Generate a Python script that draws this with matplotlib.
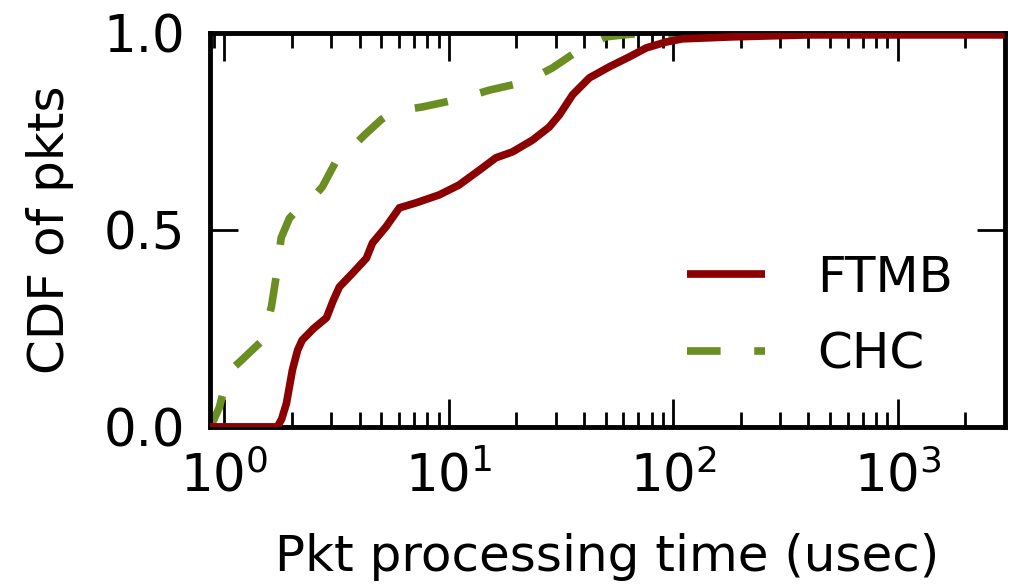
import matplotlib
matplotlib.use("Agg")
import matplotlib.pyplot as plt
from matplotlib.ticker import LogLocator, NullFormatter, FixedLocator

# Packet processing time (usec) vs. cumulative fraction of packets
ftmb_time = [0.86, 1.72, 1.80, 1.89, 2.01, 2.12, 2.22, 2.50, 2.85, 3.05, 3.25,
             3.72, 4.29, 4.57, 5.25, 6.02, 7.17, 9.07, 11.1, 13.7, 16.2, 19.2,
             23.6, 28.0, 31.1, 35.6, 42.3, 51.9, 63.6, 75.8, 93.0, 110, 183,
             400, 3000]
ftmb_cdf = [0.0, 0.0, 0.02, 0.06, 0.145, 0.195, 0.22, 0.25, 0.277, 0.32, 0.355,
            0.39, 0.428, 0.467, 0.508, 0.556, 0.569, 0.589, 0.614, 0.652, 0.683,
            0.698, 0.728, 0.761, 0.792, 0.843, 0.886, 0.914, 0.939, 0.962, 0.977,
            0.985, 0.99, 0.995, 0.995]

chc_time = [0.86, 0.884, 0.95, 1.0, 1.07, 1.17, 1.48, 1.62, 1.71, 1.79, 1.95,
            2.16, 2.47, 2.73, 3.25, 3.72, 4.21, 5.0, 5.6, 7.6, 11.1, 15.2, 22.1,
            28.9, 39.3, 50.0, 65.0, 3000]
chc_cdf = [0.0, 0.01, 0.05, 0.10, 0.145, 0.165, 0.22, 0.305, 0.39, 0.48, 0.53,
           0.556, 0.581, 0.609, 0.69, 0.71, 0.741, 0.78, 0.80, 0.812, 0.832,
           0.855, 0.876, 0.911, 0.962, 0.99, 0.997, 0.997]

series_labels = ["FTMB", "CHC"]
y_ticks = [0.0, 0.5, 1.0]

plt.rcParams["font.family"] = "DejaVu Sans"
FS = 37

fig = plt.figure(figsize=(10.18, 5.88), dpi=100)
ax = fig.add_axes([0.206, 0.274, 0.781, 0.670])

lw = 5.5
ax.plot(ftmb_time, ftmb_cdf, color="#8b0000", lw=lw, label=series_labels[0],
        zorder=3, solid_capstyle="butt", solid_joinstyle="round")
ax.plot(chc_time, chc_cdf, color="#6b8e23", lw=lw, label=series_labels[1],
        linestyle=(0, (4.4, 4.4)), zorder=2, dash_capstyle="butt")

ax.set_xscale("log")
ax.set_xlim(0.86, 3000)
ax.set_ylim(0, 1)
ax.yaxis.set_major_locator(FixedLocator(y_ticks))
ax.set_yticklabels([f"{v:.1f}" for v in y_ticks])
ax.xaxis.set_major_locator(LogLocator(base=10, numticks=10))
ax.xaxis.set_minor_locator(LogLocator(base=10, subs=range(2, 10), numticks=10))
ax.xaxis.set_minor_formatter(NullFormatter())

ax.tick_params(which="both", direction="in", top=True, right=True, width=2,
               labelsize=FS, colors="black")
ax.tick_params(which="major", length=20, pad=18)
ax.tick_params(which="minor", length=11)

for sp in ax.spines.values():
    sp.set_linewidth(3.5)

ax.set_xlabel("Pkt processing time (usec)", fontsize=36, labelpad=22)
ax.set_ylabel("CDF of pkts", fontsize=36, labelpad=21)

ax.legend(loc="upper left", frameon=False, fontsize=36, handlelength=1.56,
          handletextpad=1.05, labelspacing=0.57, borderpad=0, borderaxespad=0,
          bbox_to_anchor=(0.600, 0.44))

fig.savefig("out.png", dpi=100)
